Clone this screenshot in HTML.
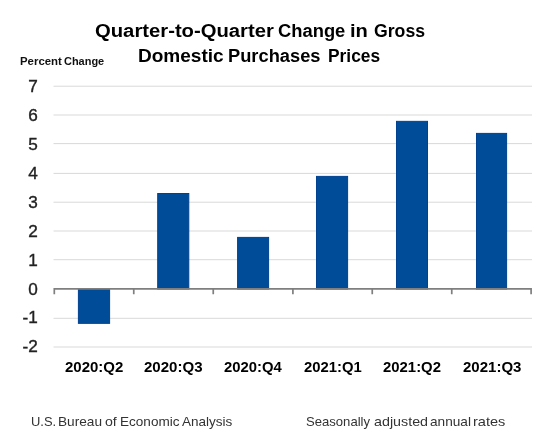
<!DOCTYPE html>
<html>
<head>
<meta charset="utf-8">
<style>
html,body{margin:0;padding:0;background:#fff;}
body{width:551px;height:444px;overflow:hidden;position:relative;font-family:"Liberation Sans",sans-serif;color:#000;}
.t{position:absolute;white-space:nowrap;line-height:1;transform-origin:0 50%;}
.t span{display:inline-block;}
svg{position:absolute;left:0;top:0;}
.yl{font-size:15.6px;color:#222;text-align:right;width:30px;-webkit-text-stroke:0.35px #222;}
.yl span{transform:scaleX(1.1);transform-origin:100% 50%;}
</style>
</head>
<body>
<svg width="551" height="444" viewBox="0 0 551 444">
  <g fill="#d9d9d9">
    <rect x="53.5" y="85.7" width="478.5" height="1"/>
    <rect x="53.5" y="114.5" width="478.5" height="1"/>
    <rect x="53.5" y="143.1" width="478.5" height="1"/>
    <rect x="53.5" y="172.9" width="478.5" height="1"/>
    <rect x="53.5" y="201.7" width="478.5" height="1"/>
    <rect x="53.5" y="230.5" width="478.5" height="1"/>
    <rect x="53.5" y="259.2" width="478.5" height="1"/>
    <rect x="53.5" y="317.8" width="478.5" height="1"/>
    <rect x="53.5" y="346.5" width="478.5" height="1"/>
  </g>
  <g fill="#004c98" stroke="#004290" stroke-width="1">
    <rect x="78.4" y="289" width="31.2" height="34.35"/>
    <rect x="157.7" y="193.5" width="31.1" height="95.5"/>
    <rect x="237.6" y="237.4" width="31" height="51.6"/>
    <rect x="316.5" y="176.4" width="31.1" height="112.6"/>
    <rect x="396.5" y="121.35" width="31" height="167.65"/>
    <rect x="476.5" y="133.4" width="30.1" height="155.6"/>
  </g>
  <g stroke="#7f7f7f" stroke-width="1.7" fill="none">
    <path d="M54.3 294.3 V288.9 H531.1 V294.3"/>
    <path d="M133.75 288.9 V294.3 M213.25 288.9 V294.3 M292.9 288.9 V294.3 M372.25 288.9 V294.3 M451.75 288.9 V294.3"/>
  </g>
</svg>
<div id="txt" style="position:absolute;left:0;top:0;width:551px;height:444px;filter:grayscale(1);">
<div class="t" style="left:95.21px;top:20.8px;font-weight:bold;font-size:19.2px;color:#000;transform:scaleX(1.0552);">Quarter-to-Quarter</div>
<div class="t" style="left:278.48px;top:20.8px;font-weight:bold;font-size:19.2px;color:#000;transform:scaleX(0.9565);">Change</div>
<div class="t" style="left:350.26px;top:20.8px;font-weight:bold;font-size:19.2px;color:#000;transform:scaleX(1.0483);">in</div>
<div class="t" style="left:374.31px;top:20.8px;font-weight:bold;font-size:19.2px;color:#000;transform:scaleX(0.9206);">Gross</div>
<div class="t" style="left:138.46px;top:46.3px;font-weight:bold;font-size:19.2px;color:#000;transform:scaleX(0.9917);">Domestic</div>
<div class="t" style="left:228.21px;top:46.3px;font-weight:bold;font-size:19.2px;color:#000;transform:scaleX(0.9526);">Purchases</div>
<div class="t" style="left:328.17px;top:46.3px;font-weight:bold;font-size:19.2px;color:#000;transform:scaleX(0.9043);">Prices</div>
<div class="t" style="left:19.61px;top:57.2px;font-weight:bold;font-size:10.4px;color:#111;transform:scaleX(1.0970);">Percent</div>
<div class="t" style="left:64.10px;top:57.2px;font-weight:bold;font-size:10.4px;color:#111;transform:scaleX(1.0542);">Change</div>
<div class="t" style="left:30.61px;top:414.8px;font-weight:normal;font-size:13px;color:#333;transform:scaleX(0.9946);">U.S.</div>
<div class="t" style="left:58.45px;top:414.8px;font-weight:normal;font-size:13px;color:#333;transform:scaleX(1.0500);">Bureau</div>
<div class="t" style="left:104.96px;top:414.8px;font-weight:normal;font-size:13px;color:#333;transform:scaleX(1.0892);">of</div>
<div class="t" style="left:120.36px;top:414.8px;font-weight:normal;font-size:13px;color:#333;transform:scaleX(1.0422);">Economic</div>
<div class="t" style="left:181.90px;top:414.8px;font-weight:normal;font-size:13px;color:#333;transform:scaleX(1.0396);">Analysis</div>
<div class="t" style="left:305.97px;top:414.8px;font-weight:normal;font-size:13px;color:#333;transform:scaleX(1.0068);">Seasonally</div>
<div class="t" style="left:373.95px;top:414.8px;font-weight:normal;font-size:13px;color:#333;transform:scaleX(1.0995);">adjusted</div>
<div class="t" style="left:429.78px;top:414.8px;font-weight:normal;font-size:13px;color:#333;transform:scaleX(1.0490);">annual</div>
<div class="t" style="left:472.92px;top:414.8px;font-weight:normal;font-size:13px;color:#333;transform:scaleX(1.1186);">rates</div>
<div class="t" style="left:65.18px;top:360.2px;font-weight:bold;font-size:14.5px;color:#000;transform:scaleX(1.0330);">2020:Q2</div>
<div class="t" style="left:144.28px;top:360.2px;font-weight:bold;font-size:14.5px;color:#000;transform:scaleX(1.0384);">2020:Q3</div>
<div class="t" style="left:224.29px;top:360.2px;font-weight:bold;font-size:14.5px;color:#000;transform:scaleX(1.0237);">2020:Q4</div>
<div class="t" style="left:304.29px;top:360.2px;font-weight:bold;font-size:14.5px;color:#000;transform:scaleX(1.0234);">2021:Q1</div>
<div class="t" style="left:383.29px;top:360.2px;font-weight:bold;font-size:14.5px;color:#000;transform:scaleX(1.0275);">2021:Q2</div>
<div class="t" style="left:463.28px;top:360.2px;font-weight:bold;font-size:14.5px;color:#000;transform:scaleX(1.0348);">2021:Q3</div>
<div class="t yl" style="top:79.2px;left:7.2px;"><span>7</span></div>
<div class="t yl" style="top:108.2px;left:7.2px;"><span>6</span></div>
<div class="t yl" style="top:137.2px;left:7.2px;"><span>5</span></div>
<div class="t yl" style="top:166.2px;left:7.2px;"><span>4</span></div>
<div class="t yl" style="top:195.2px;left:7.2px;"><span>3</span></div>
<div class="t yl" style="top:224.2px;left:7.2px;"><span>2</span></div>
<div class="t yl" style="top:253.2px;left:7.2px;"><span>1</span></div>
<div class="t yl" style="top:282.2px;left:7.2px;"><span>0</span></div>
<div class="t yl" style="top:310.2px;left:7.9px;"><span>-1</span></div>
<div class="t yl" style="top:339.2px;left:7.9px;"><span>-2</span></div>
</div>
</body>
</html>
